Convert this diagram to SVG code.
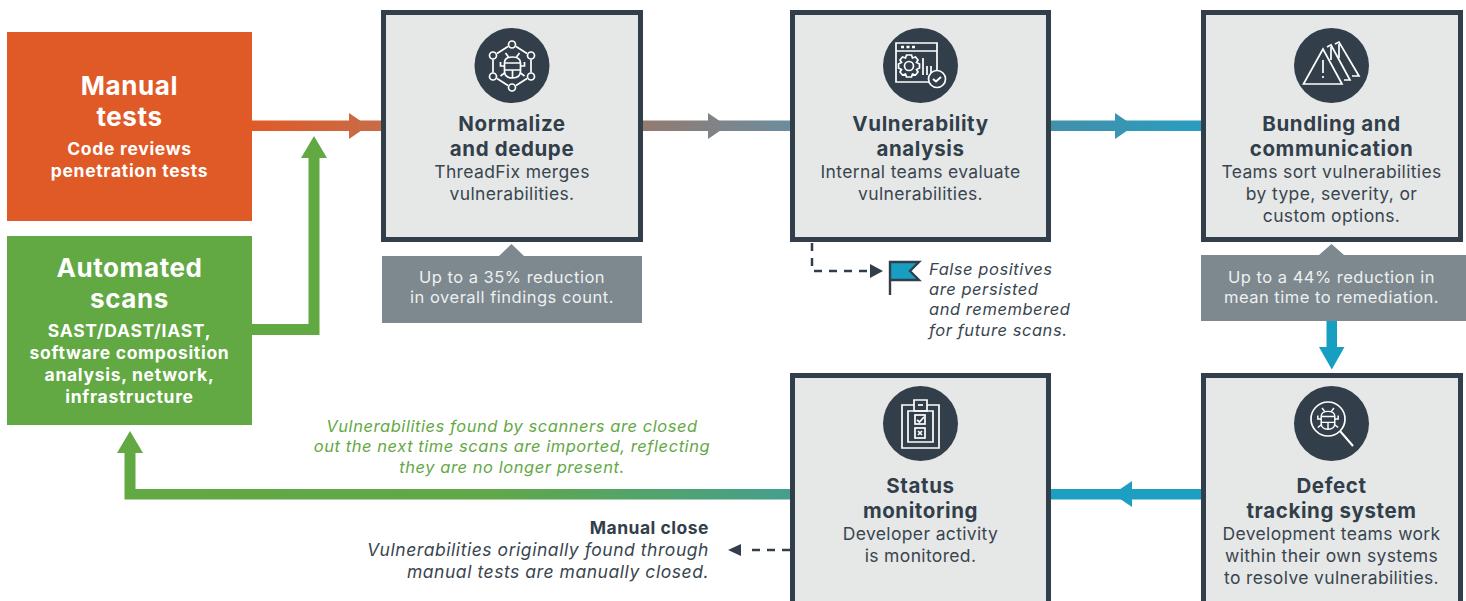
<svg xmlns="http://www.w3.org/2000/svg" width="1466" height="601" viewBox="0 0 1466 601">
<style>
text{font-family:Inter,"Open Sans","Liberation Sans",sans-serif;text-anchor:middle}
.box{fill:#e6e8e7;stroke:#323f4b;stroke-width:5}
.dk{fill:#323f4b}
.h{font-size:20.5px;font-weight:700;fill:#323f4b;letter-spacing:.6px}
.b{font-size:17.5px;fill:#39454f;letter-spacing:.35px}
.w1{font-size:26px;font-weight:700;fill:#fff;letter-spacing:.6px}
.w2{font-size:17.5px;font-weight:700;fill:#fff;letter-spacing:.7px}
.cap{font-size:16.5px;fill:#eef0f0;letter-spacing:.5px}
.it{font-size:16.5px;font-style:italic;fill:#39454f;letter-spacing:.55px}
.it2{font-size:17.5px;font-style:italic;fill:#39454f;letter-spacing:.55px}
.gi{font-size:16.5px;font-style:italic;fill:#64a845;letter-spacing:.55px}
.mc{font-size:17.5px;font-weight:700;fill:#323f4b;letter-spacing:.5px}
.ic{fill:none;stroke:#fff;stroke-width:1.7}
.l{text-anchor:start}.r{text-anchor:end}
.dash{fill:none;stroke:#323f4b;stroke-width:2.500;stroke-dasharray:8 7}
</style>
<defs>
<linearGradient id="g1" gradientUnits="userSpaceOnUse" x1="252" y1="0" x2="381" y2="0"><stop offset="0" stop-color="#e05a28"/><stop offset="1" stop-color="#c76c47"/></linearGradient>
<linearGradient id="g2" gradientUnits="userSpaceOnUse" x1="643" y1="0" x2="790" y2="0"><stop offset="0" stop-color="#937a70"/><stop offset="1" stop-color="#6c8d9d"/></linearGradient>
<linearGradient id="g3" gradientUnits="userSpaceOnUse" x1="1051" y1="0" x2="1201" y2="0"><stop offset="0" stop-color="#4290aa"/><stop offset="1" stop-color="#2a9dbf"/></linearGradient>
<linearGradient id="g4" gradientUnits="userSpaceOnUse" x1="130" y1="0" x2="790" y2="0"><stop offset="0" stop-color="#62a843"/><stop offset="0.55" stop-color="#60a849"/><stop offset="1" stop-color="#459f8c"/></linearGradient>
<g id="bug" class="ic">
<path d="M-8 -3Q-8 -9 0 -9Q8 -9 8 -3V5Q8 12 0 12Q-8 12 -8 5Z"/><path d="M-8 -3H8M-8 4H8M0 4V12M-4 -9L-7 -13M4 -9L7 -13M-8 0H-12V-4M8 0H12V-4M-8 7L-12 10M8 7L12 10"/>
</g>
</defs>

<g id="connectors">
<rect x="252" y="120.500" width="129" height="10.500" fill="url(#g1)"/>
<path d="M349 113L368 126L349 139Z" fill="url(#g1)"/>
<path d="M252 324H308.500V158H301L314 136L327 158H319.500V335H252Z" fill="#62a843"/>
<rect x="643" y="120.500" width="147" height="10.500" fill="url(#g2)"/>
<path d="M708 113L727 126L708 139Z" fill="url(#g2)"/>
<rect x="1051" y="120.500" width="150" height="10.500" fill="url(#g3)"/>
<path d="M1115 113L1134 126L1115 139Z" fill="url(#g3)"/>
<path d="M1326.500 321H1337V347H1344.500L1331.800 369.500L1319 347H1326.500Z" fill="#179fc2"/>
<rect x="1051" y="489" width="150" height="10.500" fill="#1d9fc1"/>
<path d="M1132 481L1113 494L1132 507Z" fill="#1d9fc1"/>
<path d="M790 489H135.500V453H143L130 431L117 453H124.500V499.500H790Z" fill="url(#g4)"/>
<path class="dash" d="M812 243V271H871"/>
<path d="M870 264L883 271L870 278Z" class="dk"/>
<path class="dash" d="M790 550H745"/>
<path d="M741 544L728 550L741 556Z" class="dk"/>
</g>

<g id="manual-tests">
<rect x="7" y="32" width="245" height="189" fill="#e05a28"/>
<text class="w1" x="129.500" y="95">Manual</text>
<text class="w1" x="129.500" y="126">tests</text>
<text class="w2" x="129.500" y="155">Code reviews</text>
<text class="w2" x="129.500" y="177">penetration tests</text>
</g>
<g id="automated-scans">
<rect x="7" y="236" width="245" height="189" fill="#62a843"/>
<text class="w1" x="129.500" y="277">Automated</text>
<text class="w1" x="129.500" y="308">scans</text>
<text class="w2" x="129.500" y="337">SAST/DAST/IAST,</text>
<text class="w2" x="129.500" y="359">software composition</text>
<text class="w2" x="129.500" y="381">analysis, network,</text>
<text class="w2" x="129.500" y="403">infrastructure</text>
</g>

<g id="normalize">
<rect class="box" x="383.500" y="12.500" width="257" height="227"/>
<circle class="dk" cx="512" cy="65.500" r="37.500"/>
<g class="ic" transform="translate(512 65.500)">
<circle cx="0" cy="-21" r="3.500"/><circle cx="19" cy="-10" r="3.500"/><circle cx="19" cy="11" r="3.500"/><circle cx="0" cy="22" r="3.500"/><circle cx="-19" cy="11" r="3.500"/><circle cx="-19" cy="-10" r="3.500"/>
<path d="M4 -19L15 -12M19 -6V7M15 13L4 20M-4 20L-15 13M-19 7V-6M-15 -12L-4 -19"/>
</g>
<use href="#bug" transform="translate(512.500 66)"/>
<text class="h" x="512" y="131">Normalize</text>
<text class="h" x="512" y="156">and dedupe</text>
<text class="b" x="512" y="178">ThreadFix merges</text>
<text class="b" x="512" y="200">vulnerabilities.</text>
</g>
<g id="normalize-note">
<path d="M382 256H499L511.500 244L524 256H642V323H382Z" fill="#7d888f"/>
<text class="cap" x="512" y="283">Up to a 35% reduction</text>
<text class="cap" x="512" y="303">in overall findings count.</text>
</g>

<g id="vulnerability-analysis">
<rect class="box" x="792.500" y="12.500" width="256" height="227"/>
<circle class="dk" cx="920.500" cy="65.500" r="37.500"/>
<g class="ic">
<path d="M896 43H937V82H896Z"/><path d="M896 51H937"/>
<path d="M901 47H904M906.500 47H909.500M912 47H915" stroke-width="2.500"/>
<circle cx="909" cy="66" r="4.500"/><path d="M906.500 55H911.500L912.500 58L915.500 57L918 60L916.500 62.500L919.500 64V68L916.500 69.500L918 72L915.500 75L912.500 74L911.500 77H906.500L905.500 74L902.500 75L900 72L901.500 69.500L898.500 68V64L901.500 62.500L900 60L902.500 57L905.500 58Z"/>
<path d="M923 58V75M927 66V75M931 66V75"/>
<circle cx="937" cy="79" r="8.500" fill="#323f4b"/><path d="M933 79L936 81.500L941 77" stroke-width="2"/>
</g>
<text class="h" x="920.500" y="131">Vulnerability</text>
<text class="h" x="920.500" y="156">analysis</text>
<text class="b" x="920.500" y="178">Internal teams evaluate</text>
<text class="b" x="920.500" y="200">vulnerabilities.</text>
</g>
<g id="false-positives">
<path d="M890 262H919L910 271L919 280H890Z" fill="#179fc2"/>
<path d="M890 295V262H919L910 271L919 280H890" fill="none" stroke="#323f4b" stroke-width="2.400"/>
<text class="it l" x="929" y="275">False positives</text>
<text class="it l" x="929" y="295">are persisted</text>
<text class="it l" x="929" y="315">and remembered</text>
<text class="it l" x="929" y="336">for future scans.</text>
</g>

<g id="bundling">
<rect class="box" x="1203.500" y="12.500" width="257" height="227"/>
<circle class="dk" cx="1331.500" cy="65.500" r="37.500"/>
<g class="ic">
<path d="M1303.500 84H1342L1323 49Z"/>
<path d="M1327 47L1331 45L1350 80H1344"/>
<path d="M1335 44L1339 42L1359 76H1352"/>
<path d="M1323 60V73M1323 76V78M1331 47V60M1339 44V58"/>
</g>
<text class="h" x="1331.500" y="131">Bundling and</text>
<text class="h" x="1331.500" y="156">communication</text>
<text class="b" x="1331.500" y="178">Teams sort vulnerabilities</text>
<text class="b" x="1331.500" y="200">by type, severity, or</text>
<text class="b" x="1331.500" y="222">custom options.</text>
</g>
<g id="bundling-note">
<path d="M1201 255H1319L1331.500 244L1344 255H1466V321H1201Z" fill="#7d888f"/>
<text class="cap" x="1331.500" y="283">Up to a 44% reduction in</text>
<text class="cap" x="1331.500" y="303">mean time to remediation.</text>
</g>

<g id="defect-tracking">
<rect class="box" x="1203.500" y="375.500" width="257" height="240"/>
<circle class="dk" cx="1331.500" cy="423.500" r="37.500"/>
<g class="ic" transform="translate(1328 419)">
<circle r="17"/><path d="M12 12L25 27" stroke-width="2"/>
</g>
<use href="#bug" transform="translate(1328 419) scale(.85)"/>
<text class="h" x="1331.500" y="493">Defect</text>
<text class="h" x="1331.500" y="518">tracking system</text>
<text class="b" x="1331.500" y="540">Development teams work</text>
<text class="b" x="1331.500" y="562">within their own systems</text>
<text class="b" x="1331.500" y="584">to resolve vulnerabilities.</text>
</g>

<g id="status-monitoring">
<rect class="box" x="792.500" y="375.500" width="256" height="240"/>
<circle class="dk" cx="920.500" cy="423.500" r="37.500"/>
<g class="ic" transform="translate(860 380)">
<path d="M54 25H42V68H79V25H67"/><path d="M48 31H73V62H48Z"/><path d="M54 31V20H67V31H54"/><path d="M58 25H63"/>
<rect x="55" y="35" width="10" height="9"/><path d="M57 40L59.500 42L64 37"/>
<rect x="55" y="48" width="10" height="10"/><path d="M58 51L62 55M62 51L58 55"/>
</g>
<text class="h" x="920.500" y="493">Status</text>
<text class="h" x="920.500" y="518">monitoring</text>
<text class="b" x="920.500" y="540">Developer activity</text>
<text class="b" x="920.500" y="562">is monitored.</text>
</g>

<g id="scan-note">
<text class="gi" x="512" y="432">Vulnerabilities found by scanners are closed</text>
<text class="gi" x="512" y="452">out the next time scans are imported, reflecting</text>
<text class="gi" x="512" y="473">they are no longer present.</text>
</g>
<g id="manual-close">
<text class="mc r" x="709" y="534">Manual close</text>
<text class="it2 r" x="709" y="556">Vulnerabilities originally found through</text>
<text class="it2 r" x="709" y="578">manual tests are manually closed.</text>
</g>
</svg>
